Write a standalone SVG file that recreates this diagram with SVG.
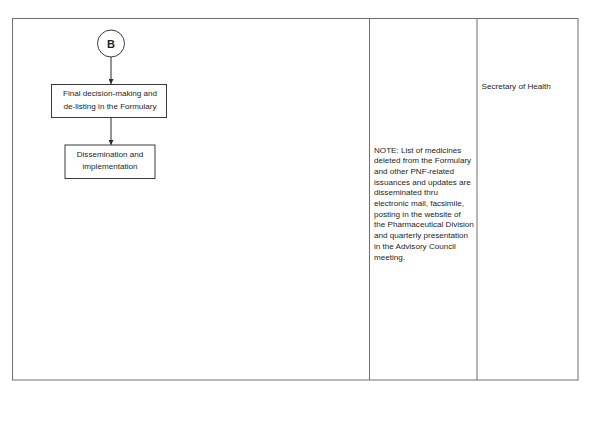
<svg xmlns="http://www.w3.org/2000/svg" width="592" height="421" viewBox="0 0 592 421">
<style>
.frame{fill:none;stroke:#6e6e6e;stroke-width:1}
.box{fill:#fff;stroke:#3a3a3a;stroke-width:1}
.conn{stroke:#2a2a2a;stroke-width:1;fill:none}
text{font-family:"Liberation Sans",Arial,sans-serif;font-size:8.1px;fill:#1e1e1e}
.c{text-anchor:middle}
</style>
<defs>
<marker id="ah" viewBox="0 0 8 8" refX="8" refY="4" markerWidth="5" markerHeight="5" orient="auto" markerUnits="userSpaceOnUse">
<path d="M0,0 L8,4 L0,8 z" fill="#2a2a2a"/>
</marker>
</defs>
<rect width="592" height="421" fill="#fff"/>
<g id="frame">
<rect class="frame" x="12.5" y="18.5" width="565.5" height="361.5"/>
<line class="frame" x1="369.5" y1="18.5" x2="369.5" y2="380"/>
<line class="frame" x1="477" y1="18.5" x2="477" y2="380"/>
</g>
<g id="connectors">
<line class="conn" x1="111" y1="57" x2="111" y2="84" marker-end="url(#ah)"/>
<line class="conn" x1="111" y1="117.5" x2="111" y2="145" marker-end="url(#ah)"/>
</g>
<g id="nodeB">
<circle cx="111" cy="43.5" r="13.5" fill="#fff" stroke="#3a3a3a" stroke-width="1"/>
<text class="c" x="111" y="47.5" style="font-size:11px;font-weight:bold">B</text>
</g>
<g id="node1">
<rect class="box" x="51.5" y="84.5" width="115" height="33"/>
<text class="c" x="110" y="96">Final decision-making and</text>
<text class="c" x="110" y="108.5">de-listing in the Formulary</text>
</g>
<g id="node2">
<rect class="box" x="65" y="145" width="90" height="33.5"/>
<text class="c" x="110" y="157">Dissemination and</text>
<text class="c" x="110" y="169">implementation</text>
</g>
<g id="note">
<text x="374" y="152.5">NOTE: List of medicines</text>
<text x="374" y="163.2">deleted from the Formulary</text>
<text x="374" y="173.9">and other PNF-related</text>
<text x="374" y="184.6">issuances and updates are</text>
<text x="374" y="195.3">disseminated thru</text>
<text x="374" y="206">electronic mail, facsimile,</text>
<text x="374" y="216.7">posting in the website of</text>
<text x="374" y="227.4">the Pharmaceutical Division</text>
<text x="374" y="238.1">and quarterly presentation</text>
<text x="374" y="248.8">in the Advisory Council</text>
<text x="374" y="259.5">meeting.</text>
</g>
<g id="secretary">
<text x="481.5" y="88.5">Secretary of Health</text>
</g>
</svg>
